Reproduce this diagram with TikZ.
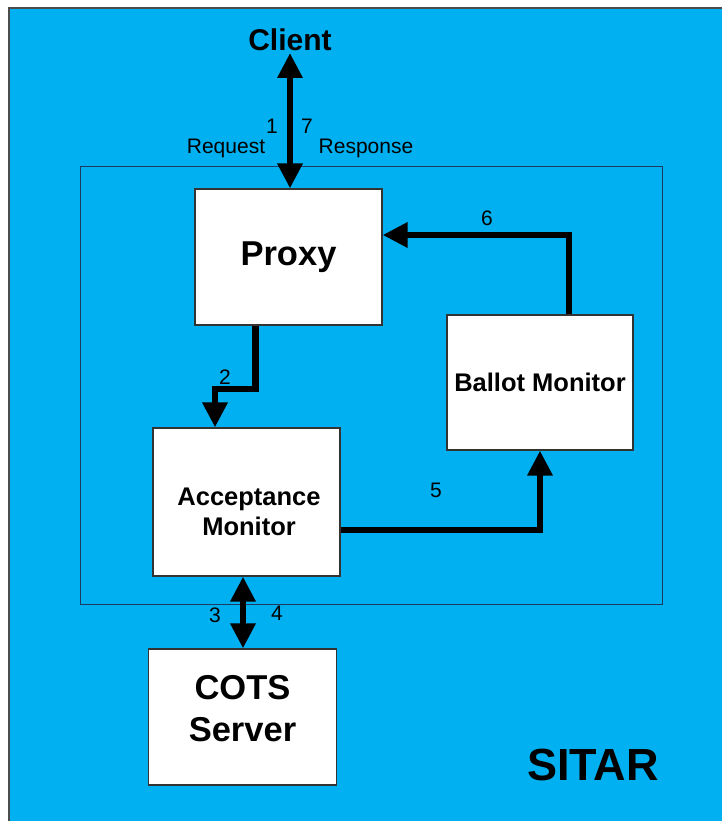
\documentclass[tikz,border=0pt]{standalone}
\usepackage{fontspec}
\setmainfont{Liberation Sans}
\usetikzlibrary{arrows.meta}
\definecolor{bgblue}{HTML}{00B0F0}
\definecolor{framenavy}{HTML}{1F3A5F}
\tikzset{
  box/.style={draw=black!80, line width=1.2pt, fill=white},
  flow/.style={line width=6.5pt, -{Triangle[width=24pt,length=25pt]}},
  twoway/.style={line width=6.5pt, {Triangle[width=24pt,length=25pt]}-{Triangle[width=24pt,length=25pt]}},
  lbl/.style={font=\fontsize{21}{23}\selectfont, inner sep=0pt},
  title/.style={font=\bfseries\fontsize{30}{32}\selectfont, inner sep=0pt},
  boxtext/.style={font=\bfseries\fontsize{25.5}{30}\selectfont, inner sep=0pt, align=center},
  bigtext/.style={font=\bfseries\fontsize{34.5}{42}\selectfont, inner sep=0pt, align=center}
}
\begin{document}
\begin{tikzpicture}[x=1pt,y=-1pt]
\useasboundingbox (0,0) rectangle (722,821);
\clip (0,0) rectangle (722,821);
\fill[white] (0,0) rectangle (722,821);
\draw[fill=bgblue, draw=black!70, line width=1.2pt] (9,8) rectangle (740,840);
\draw[framenavy, line width=1pt] (80,167) rectangle (662,604);
% boxes
\node[box, minimum width=187pt, minimum height=136pt] (proxy) at (288.5,257) {};
\node[bigtext] at (proxy.center) {Proxy};
\node[box, minimum width=186pt, minimum height=135pt] (ballot) at (540,382.5) {};
\node[boxtext] at (ballot.center) {Ballot Monitor};
\node[box, minimum width=187pt, minimum height=148pt] (accept) at (246.5,502) {};
\node[boxtext] at (249,512) {Acceptance\\Monitor};
\node[box, minimum width=188pt, minimum height=136pt] (cots) at (242.5,717) {};
\node[bigtext] at (242.5,709) {COTS\\Server};
% texts
\node[title] (client) at (290,40) {Client};
\coordinate (clienttip) at (290,53);
\node[lbl] (n1) at (272,126) {1};
\node[lbl] (n7) at (307,126) {7};
\node[lbl] (req) at (226,148) {Request};
\node[lbl] (resp) at (366,148) {Response};
\node[lbl] (n2) at (225,377) {2};
\node[lbl] (n3) at (215,615) {3};
\node[lbl] (n4) at (277,613) {4};
\node[lbl] (n5) at (436,490) {5};
\node[lbl] (n6) at (487,218) {6};
\node[font=\bfseries\fontsize{45}{50}\selectfont, inner sep=0pt] (sitar) at (593,765) {SITAR};
% connectors
\draw[twoway] (clienttip) -- (proxy.north -| clienttip);
\draw[flow] ([xshift=-33pt]proxy.south) |- (215,389) -- (accept.north -| 215,0);
\draw[twoway] (accept.south -| 243,0) -- (cots.north -| 243,0);
\draw[flow] (accept.east |- 0,530) -| (ballot.south);
\draw[flow] (ballot.north -| 569,0) |- (proxy.east |- 0,235);
\end{tikzpicture}
\end{document}
